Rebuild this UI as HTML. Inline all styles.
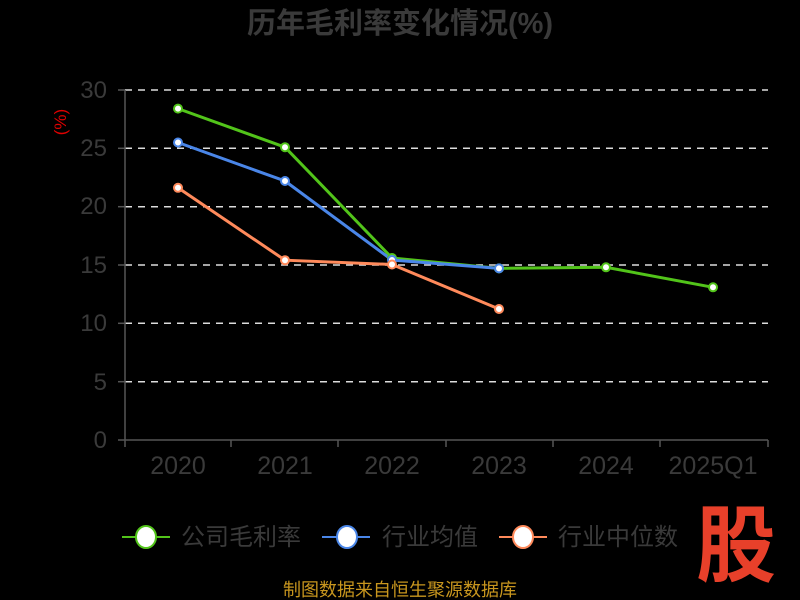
<!DOCTYPE html>
<html><head><meta charset="utf-8"><style>
body{margin:0;background:#000;}
svg{display:block;font-family:"Liberation Sans","Noto Sans CJK SC",sans-serif;}
</style></head><body>
<svg width="800" height="600" viewBox="0 0 800 600">
<rect width="800" height="600" fill="#000"/>
<text x="400" y="33" text-anchor="middle" font-size="29" font-weight="bold" fill="#3a3a3a">历年毛利率变化情况(%)</text>
<text x="70" y="126" font-size="17" fill="#e00000" text-anchor="middle" transform="rotate(-90 66 126)">(%)</text>
<g stroke="#ddd" stroke-width="1.5" stroke-dasharray="7,6">
<line x1="125" y1="90" x2="768" y2="90"/>
<line x1="125" y1="148.3" x2="768" y2="148.3"/>
<line x1="125" y1="206.7" x2="768" y2="206.7"/>
<line x1="125" y1="265" x2="768" y2="265"/>
<line x1="125" y1="323.3" x2="768" y2="323.3"/>
<line x1="125" y1="381.7" x2="768" y2="381.7"/>
</g>
<g stroke="#555" stroke-width="1.5">
<line x1="125" y1="90" x2="125" y2="440"/>
<line x1="125" y1="440" x2="768" y2="440"/>
<line x1="118" y1="90" x2="125" y2="90"/><line x1="118" y1="148.3" x2="125" y2="148.3"/><line x1="118" y1="206.7" x2="125" y2="206.7"/><line x1="118" y1="265" x2="125" y2="265"/><line x1="118" y1="323.3" x2="125" y2="323.3"/><line x1="118" y1="381.7" x2="125" y2="381.7"/><line x1="118" y1="440" x2="125" y2="440"/>
<line x1="125" y1="440" x2="125" y2="447"/><line x1="231" y1="440" x2="231" y2="447"/><line x1="338" y1="440" x2="338" y2="447"/><line x1="446" y1="440" x2="446" y2="447"/><line x1="553" y1="440" x2="553" y2="447"/><line x1="660" y1="440" x2="660" y2="447"/><line x1="768" y1="440" x2="768" y2="447"/>
</g>
<g font-size="24" fill="#3a3a3a" text-anchor="end">
<text x="107" y="98">30</text><text x="107" y="156">25</text><text x="107" y="214">20</text><text x="107" y="273">15</text><text x="107" y="331">10</text><text x="107" y="390">5</text><text x="107" y="448">0</text>
</g>
<g font-size="25" fill="#3a3a3a" text-anchor="middle">
<text x="178" y="474">2020</text><text x="285" y="474">2021</text><text x="392" y="474">2022</text><text x="499" y="474">2023</text><text x="606" y="474">2024</text><text x="713" y="474">2025Q1</text>
</g>
<g fill="none" stroke-width="3">
<polyline stroke="#52c41a" points="178,108.6 285,147.2 392,258 499,268.4 606,267.3 713,287.3"/>
<polyline stroke="#4a86e8" points="178,142.5 285,181 392,260 499,268.4"/>
<polyline stroke="#ff8a5b" points="178,187.8 285,260.2 392,264.5 499,309"/>
</g>
<g fill="#fff" stroke-width="2">
<g stroke="#52c41a"><circle cx="178" cy="108.6" r="4"/><circle cx="285" cy="147.2" r="4"/><circle cx="392" cy="258" r="4"/><circle cx="499" cy="268.4" r="4"/><circle cx="606" cy="267.3" r="4"/><circle cx="713" cy="287.3" r="4"/></g>
<g stroke="#4a86e8"><circle cx="178" cy="142.5" r="4"/><circle cx="285" cy="181" r="4"/><circle cx="392" cy="260" r="4"/><circle cx="499" cy="268.4" r="4"/></g>
<g stroke="#ff8a5b"><circle cx="178" cy="187.8" r="4"/><circle cx="285" cy="260.2" r="4"/><circle cx="392" cy="264.5" r="4"/><circle cx="499" cy="309" r="4"/></g>
</g>
<g stroke-width="2">
<line x1="122" y1="537" x2="170" y2="537" stroke="#52c41a"/><ellipse cx="146" cy="537" rx="10" ry="11" fill="#fff" stroke="#52c41a"/>
<line x1="322" y1="537" x2="370" y2="537" stroke="#4a86e8"/><ellipse cx="347" cy="537" rx="10" ry="11" fill="#fff" stroke="#4a86e8"/>
<line x1="499" y1="537" x2="547" y2="537" stroke="#ff8a5b"/><ellipse cx="523" cy="537" rx="10" ry="11" fill="#fff" stroke="#ff8a5b"/>
</g>
<g font-size="24" fill="#3a3a3a">
<text x="181" y="545">公司毛利率</text><text x="382" y="545">行业均值</text><text x="558" y="545">行业中位数</text>
</g>
<text x="400" y="596" text-anchor="middle" font-size="18" fill="#c8961e">制图数据来自恒生聚源数据库</text>
<text x="736" y="575" text-anchor="middle" font-size="84" font-weight="bold" fill="#e8402a" transform="translate(736 0) scale(0.95 1) translate(-736 0)">股</text>
</svg>
</body></html>
